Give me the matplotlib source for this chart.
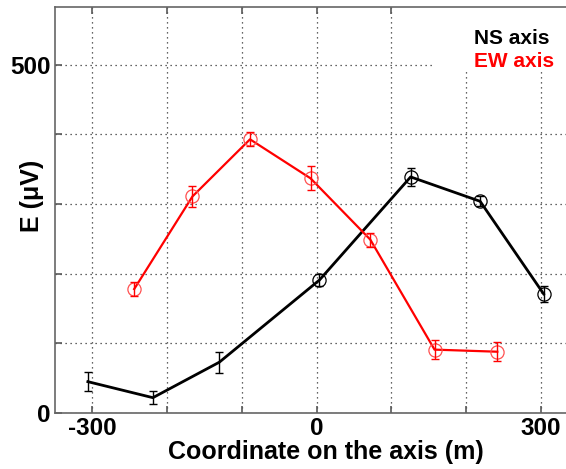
import matplotlib.pyplot as plt
from matplotlib.patches import Rectangle

plt.rcParams['font.family'] = ['Liberation Sans', 'DejaVu Sans']
plt.rcParams['font.weight'] = 'bold'

# NS axis profile (black)
ns_x = [-306, -219, -130, 4, 126, 219, 304]
ns_y = [45, 22, 73, 191, 339, 304, 171]
ns_err = [14, 9, 15, 8, 13, 7, 11]

# EW axis profile (red)
ew_x = [-244, -166, -89, -8, 72, 158, 242]
ew_y = [178, 311, 393, 337, 249, 91, 88]
ew_err = [10, 15, 10, 17, 10, 14, 14]

fig = plt.figure(figsize=(5.66, 4.69), dpi=100)
ax = fig.add_axes([55 / 566, 56 / 469, 523 / 566, 406 / 469])

# black curve: circles only on the last four points
ax.plot(ns_x, ns_y, color='black', lw=2, marker='o', ms=9.5, mfc='none',
        mec='black', mew=0.9, markevery=[3, 4, 5, 6], zorder=3)
ax.errorbar(ns_x, ns_y, yerr=ns_err, fmt='none', ecolor='black',
            elinewidth=1, capsize=3, capthick=1, zorder=3)

ax.plot(ew_x, ew_y, color='red', lw=1.6, marker='o', ms=9.5, mfc='none',
        mec='#ff5050', mew=0.9, zorder=3)
ax.errorbar(ew_x, ew_y, yerr=ew_err, fmt='none', ecolor='red',
            elinewidth=1, capsize=3, capthick=1, zorder=3)

ax.set_xlim(-350, 350)
ax.set_ylim(0, 583)
ax.set_xticks(range(-300, 301, 100))
ax.set_xticklabels(['-300', '', '', '0', '', '', '300'])
ax.set_yticks(range(0, 501, 100))
ax.set_yticklabels(['0', '', '', '', '', '500'])
ax.tick_params(direction='in', length=5, width=1.2, color='0.35',
               top=True, right=True, labelsize=17.5, pad=3)
for s in ax.spines.values():
    s.set_color('0.4')
    s.set_linewidth(1.2)

ax.grid(True, linestyle=(0, (1, 3)), color='0.2', lw=0.9)

# legend box (white background over the grid)
ax.add_patch(Rectangle((0.721, 0.84), 0.3, 0.16, transform=ax.transAxes,
                       facecolor='white', edgecolor='none', zorder=2.5))
ax.text(0.801, 0.909, 'NS axis', transform=ax.transAxes, fontsize=15,
        fontweight='bold', color='black', zorder=4)
ax.text(0.801, 0.852, 'EW axis', transform=ax.transAxes, fontsize=15,
        fontweight='bold', color='red', zorder=4)

fig.text(326 / 566, 1 - 452 / 469, 'Coordinate on the axis (m)', fontsize=18,
         fontweight='bold', ha='center', va='center')
fig.text(32 / 566, 1 - 196 / 469, 'E (μV)', fontsize=18, fontweight='bold',
         rotation=90, ha='center', va='center')

fig.savefig('out.png', dpi=100)
